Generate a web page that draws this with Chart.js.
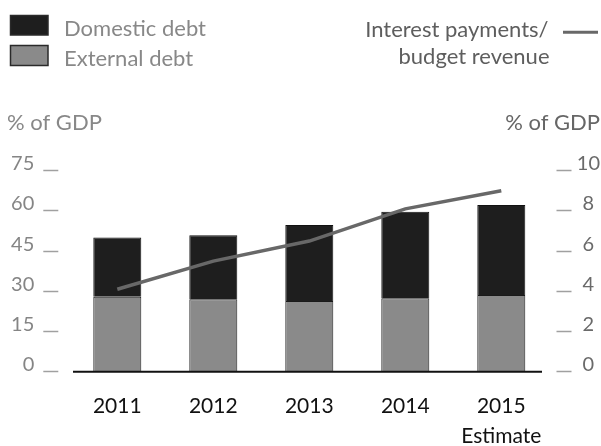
<!DOCTYPE html>
<html>
<head>
<meta charset="utf-8">
<script src="https://cdn.jsdelivr.net/npm/chart.js@4/dist/chart.umd.min.js"></script>
<style>
  html, body { margin: 0; padding: 0; background: #fff; }
  #wrap { width: 601px; height: 446px; position: relative; }
</style>
</head>
<body>
<div id="wrap"><canvas id="c" width="601" height="446"></canvas></div>
<script>
const categories = ['2011', '2012', '2013', '2014', '2015'];
const xTickLabels = ['2011', '2012', '2013', '2014', ['2015', 'Estimate']];
const externalDebt = [28.0, 27.0, 26.4, 27.4, 28.6];
const domesticDebt = [22.1, 23.9, 28.3, 32.3, 33.6];
const interestPayments = [4.1, 5.5, 6.5, 8.1, 9.0];
const leftTicks = [0, 15, 30, 45, 60, 75];
const rightTicks = [0, 2, 4, 6, 8, 10];
const seriesNames = ['External debt', 'Domestic debt', 'Interest payments/', 'budget revenue'];
const axisTitle = '% of GDP';

const FONT = 'Lato, "Noto Sans", sans-serif';

const overlay = {
  id: 'overlay',
  afterDatasetsDraw(chart) {
    const ctx = chart.ctx;
    const ca = chart.chartArea;
    ctx.save();
    ctx.strokeStyle = '#111';
    ctx.lineWidth = 2;
    ctx.beginPath();
    ctx.moveTo(73, ca.bottom);
    ctx.lineTo(542, ca.bottom);
    ctx.stroke();
    ctx.restore();
  },
  afterDraw(chart) {
    const ctx = chart.ctx;
    const ds = chart.data.datasets;
    ctx.save();
    ctx.font = '22px ' + FONT;
    ctx.textBaseline = 'alphabetic';
    // axis titles
    ctx.fillStyle = '#888888';
    ctx.textAlign = 'left';
    ctx.fillText(axisTitle, 7, 130);
    ctx.fillStyle = '#666666';
    ctx.textAlign = 'right';
    ctx.fillText(axisTitle, 600, 130);
    // legend boxes
    ctx.lineWidth = 1.5;
    ctx.strokeStyle = '#2a2a2a';
    ctx.fillStyle = ds[1].backgroundColor;
    ctx.fillRect(10.5, 15.5, 37.5, 19.5);
    ctx.strokeRect(10.5, 15.5, 37.5, 19.5);
    ctx.fillStyle = ds[0].backgroundColor;
    ctx.fillRect(10.5, 45.5, 37.5, 20);
    ctx.strokeRect(10.5, 45.5, 37.5, 20);
    ctx.fillStyle = '#888888';
    ctx.textAlign = 'left';
    ctx.fillText(seriesNames[1], 64, 36);
    ctx.fillText(seriesNames[0], 64, 65.5);
    // right legend
    ctx.fillStyle = '#5e5e5e';
    ctx.textAlign = 'right';
    ctx.fillText(seriesNames[2], 548.5, 36.5);
    ctx.fillText(seriesNames[3], 549.5, 64.3);
    ctx.strokeStyle = ds[2].borderColor;
    ctx.lineWidth = 3;
    ctx.beginPath();
    ctx.moveTo(563, 32.3);
    ctx.lineTo(598, 32.3);
    ctx.stroke();
    ctx.restore();
  }
};

new Chart(document.getElementById('c'), {
  type: 'bar',
  data: {
    labels: categories,
    datasets: [
      {
        label: seriesNames[0],
        data: externalDebt,
        backgroundColor: '#8a8a8a',
        borderColor: '#1a1a1a',
        borderWidth: 1,
        yAxisID: 'y',
        order: 1,
        barPercentage: 0.5,
        categoryPercentage: 1
      },
      {
        label: seriesNames[1],
        data: domesticDebt,
        backgroundColor: '#1e1e1e',
        borderColor: '#111',
        borderWidth: 1,
        yAxisID: 'y',
        order: 1,
        barPercentage: 0.5,
        categoryPercentage: 1
      },
      {
        type: 'line',
        label: seriesNames[2] + ' ' + seriesNames[3],
        data: interestPayments,
        borderColor: '#686868',
        borderWidth: 3.5,
        pointRadius: 0,
        tension: 0,
        fill: false,
        yAxisID: 'y2',
        order: 0
      }
    ]
  },
  options: {
    responsive: false,
    animation: false,
    events: [],
    layout: { padding: { top: 170.7, left: 0, right: 0, bottom: 0 } },
    plugins: { legend: { display: false }, tooltip: { enabled: false } },
    scales: {
      x: {
        stacked: true,
        grid: { display: false },
        border: { display: false },
        ticks: {
          color: '#111',
          font: { family: FONT, size: 21, lineHeight: '30px' },
          padding: 11.5,
          maxRotation: 0,
          autoSkip: false,
          callback: (v, i) => xTickLabels[i]
        },
        afterFit: (s) => { s.height = 446 - 371.7; }
      },
      y: {
        position: 'left',
        stacked: true,
        min: leftTicks[0],
        max: leftTicks[leftTicks.length - 1],
        afterBuildTicks: (s) => { s.ticks = leftTicks.map(v => ({ value: v })); },
        grid: {
          drawOnChartArea: false,
          drawTicks: true,
          tickLength: 26,
          tickBorderDash: [15, 100],
          tickColor: '#a0a0a0',
          tickWidth: 1.5
        },
        border: { display: false },
        ticks: {
          color: '#858585',
          font: { family: FONT, size: 20 },
          padding: 9,
          labelOffset: -7
        },
        afterFit: (s) => { s.width = 69.3; }
      },
      y2: {
        position: 'right',
        min: rightTicks[0],
        max: rightTicks[rightTicks.length - 1],
        afterBuildTicks: (s) => { s.ticks = rightTicks.map(v => ({ value: v })); },
        grid: {
          drawOnChartArea: false,
          drawTicks: true,
          tickLength: 22.5,
          tickBorderDash: [0, 7.5, 15, 100],
          tickColor: '#a0a0a0',
          tickWidth: 1.5
        },
        border: { display: false },
        ticks: {
          color: '#6a6a6a',
          font: { family: FONT, size: 20 },
          padding: 5,
          crossAlign: 'center',
          labelOffset: -7
        },
        afterFit: (s) => { s.width = 601 - 549.3; }
      }
    }
  },
  plugins: [overlay]
});
</script>
</body>
</html>
